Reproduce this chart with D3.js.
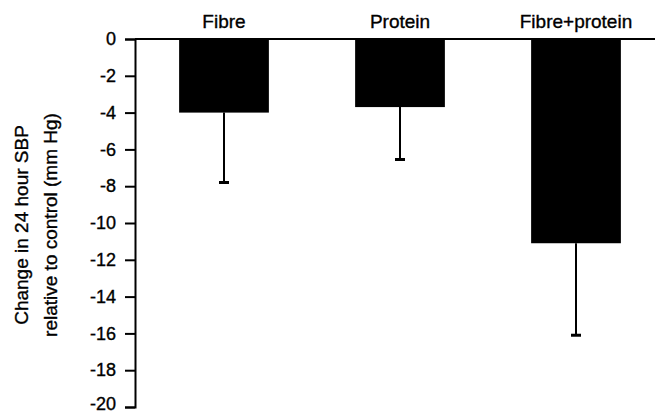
<!DOCTYPE html>
<html>
<head>
<meta charset="utf-8">
<script src="https://cdn.jsdelivr.net/npm/d3@7"></script>
<style>
  body { margin: 0; background: #fff; }
  text { font-family: "Liberation Sans", Arial, sans-serif; fill: #000; stroke: #000; stroke-width: 0.35px; }
</style>
</head>
<body>
<svg id="chart" width="655" height="412"></svg>
<script>
const categories = ['Fibre', 'Protein', 'Fibre+protein'];
const changes = [-4.0, -3.7, -11.1];
const errors = [3.8, 2.85, 5.0];
const yTicks = [0, -2, -4, -6, -8, -10, -12, -14, -16, -18, -20];
const titleLines = ['Change in 24 hour SBP', 'relative to control (mm Hg)'];

const svg = d3.select('#chart');

const x = d3.scaleBand()
  .domain(categories)
  .range([136, 664])
  .paddingInner(0.49)
  .paddingOuter(0.245);

const y = d3.scaleLinear()
  .domain([0, -20])
  .range([39, 407]);

// Bars
svg.append('g')
  .selectAll('rect')
  .data(categories)
  .enter()
  .append('rect')
    .attr('x', d => x(d))
    .attr('y', y(0))
    .attr('width', x.bandwidth())
    .attr('height', (d, i) => y(changes[i]) - y(0))
    .attr('fill', '#000');

// Error bars (downward only)
const err = svg.append('g')
  .attr('stroke', '#000')
  .attr('stroke-width', 2);

err.selectAll('line.stem')
  .data(categories)
  .enter()
  .append('line')
    .attr('class', 'stem')
    .attr('x1', d => x(d) + x.bandwidth() / 2)
    .attr('x2', d => x(d) + x.bandwidth() / 2)
    .attr('y1', (d, i) => y(changes[i]))
    .attr('y2', (d, i) => y(changes[i] - errors[i]));

err.selectAll('line.cap')
  .data(categories)
  .enter()
  .append('line')
    .attr('class', 'cap')
    .attr('stroke-width', 3)
    .attr('x1', d => x(d) + x.bandwidth() / 2 - 5)
    .attr('x2', d => x(d) + x.bandwidth() / 2 + 5)
    .attr('y1', (d, i) => y(changes[i] - errors[i]))
    .attr('y2', (d, i) => y(changes[i] - errors[i]));

// Top zero line across the plot
svg.append('line')
  .attr('x1', 135)
  .attr('x2', 655)
  .attr('y1', y(0))
  .attr('y2', y(0))
  .attr('stroke', '#000')
  .attr('stroke-width', 2);

// Y-Axis
const yAxis = svg.append('g')
  .attr('transform', 'translate(135,0)')
  .call(d3.axisLeft(y).tickValues(yTicks).tickSize(10).tickFormat(d => String(d)));

yAxis.select('.domain')
  .attr('stroke-width', 2);
yAxis.selectAll('.tick line')
  .attr('stroke-width', 2);
yAxis.selectAll('.tick text')
  .attr('x', -19)
  .attr('dy', d => d === -20 ? '0.12em' : '0.32em')
  .style('font-size', '18px');

// Category labels above the bars
svg.append('g')
  .selectAll('text')
  .data(categories)
  .enter()
  .append('text')
    .attr('x', d => x(d) + x.bandwidth() / 2)
    .attr('y', 28)
    .attr('text-anchor', 'middle')
    .style('font-size', '19px')
    .text(d => d);

// Axis title, two rotated lines
svg.append('g')
  .attr('transform', 'translate(0,225) rotate(-90)')
  .selectAll('text')
  .data(titleLines)
  .enter()
  .append('text')
    .attr('x', 0)
    .attr('y', (d, i) => 28 + i * 29)
    .attr('text-anchor', 'middle')
    .style('font-size', '19px')
    .text(d => d);
</script>
</body>
</html>
